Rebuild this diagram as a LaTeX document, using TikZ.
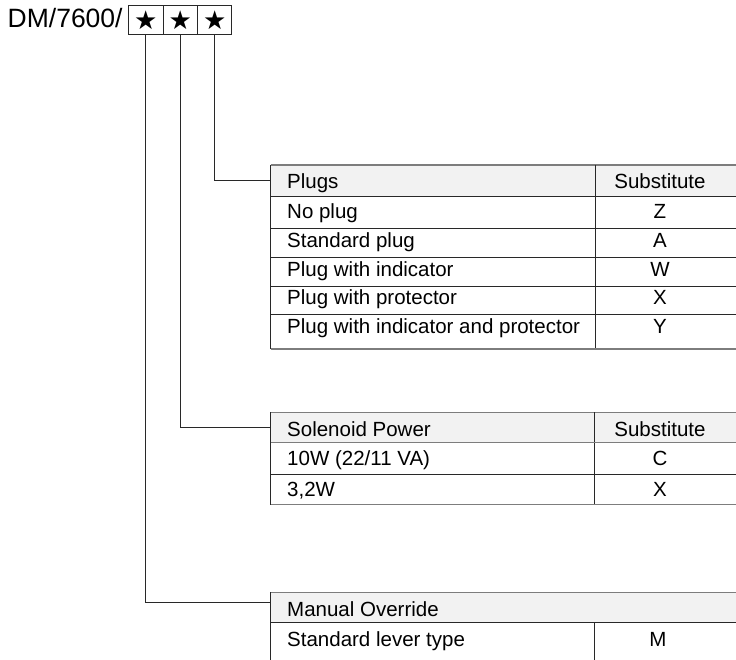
\documentclass[tikz,border=0pt]{standalone}
\usepackage{fontspec}
\setmainfont{Liberation Sans}
\newfontfamily\symfont{DejaVu Sans}
\definecolor{hdrfill}{RGB}{242,242,242}
\definecolor{framegray}{RGB}{125,125,125}
\definecolor{linedark}{RGB}{40,40,40}
\begin{document}
\begin{tikzpicture}[x=1pt,y=-1pt,
  font=\fontsize{20.5}{24}\selectfont,
  starbox/.style={draw=linedark, line width=0.9pt, minimum width=34.4pt, minimum height=29.3pt, inner sep=0pt, font=\symfont\fontsize{26}{26}\selectfont},
  hdrrow/.style={anchor=north west, fill=hdrfill, inner sep=0pt, minimum width=465.3pt, minimum height=30.5pt},
  lefttxt/.style={anchor=base west, inner sep=0pt},
  righttxt/.style={anchor=base, inner sep=0pt},
  outerline/.style={draw=framegray, line width=1.5pt},
  cellline/.style={draw=linedark, line width=0.9pt},
  conn/.style={draw=linedark, line width=0.9pt}]
\useasboundingbox (0,0) rectangle (736,660);

% title and code boxes
\node[anchor=base west, inner sep=0pt, font=\fontsize{26.5}{30}\selectfont] (title) at (7.5,27.3) {DM/7600/};
\node[starbox] (b1) at (145.8,19.7) {★};
\node[starbox] (b2) at (180.3,19.7) {★};
\node[starbox] (b3) at (214.7,19.7) {★};

% ---------- Table 1: Plugs ----------
\node[hdrrow] (h1) at (270.7,165) {};
\draw[outerline] (270.7,165) -- (736,165);
\draw[cellline] (270.7,165) -- (270.7,349);
\draw[cellline] (595,165) -- (595,349);
\foreach \yy in {196,228,257,286,314} \draw[cellline] (270.7,\yy) -- (736,\yy);
\draw[outerline] (270.7,349) -- (736,349);
\node[lefttxt] (t1a) at (287,188.3) {Plugs};
\node[righttxt] (t1b) at (660,188.3) {Substitute};
\node[lefttxt] (t1c) at (287,218.3) {No plug};
\node[righttxt] (t1d) at (660,218.3) {Z};
\node[lefttxt] (t1e) at (287,247.7) {Standard plug};
\node[righttxt] (t1f) at (660,247.7) {A};
\node[lefttxt] (t1g) at (287,276.7) {Plug with indicator};
\node[righttxt] (t1h) at (660,276.7) {W};
\node[lefttxt] (t1i) at (287,305) {Plug with protector};
\node[righttxt] (t1j) at (660,305) {X};
\node[lefttxt] (t1k) at (287,334) {Plug with indicator and protector};
\node[righttxt] (t1l) at (660,334) {Y};

% ---------- Table 2: Solenoid Power ----------
\node[hdrrow] (h2) at (270.7,412.3) {};
\draw[outerline] (270.7,412.3) -- (736,412.3);
\draw[cellline] (270.7,412.3) -- (270.7,504.5);
\draw[cellline] (594,412.3) -- (594,504.5);
\draw[outerline] (270.7,442.7) -- (736,442.7);
\draw[cellline] (270.7,474) -- (736,474);
\draw[outerline] (270.7,504.5) -- (736,504.5);
\node[lefttxt] (t2a) at (287,436) {Solenoid Power};
\node[righttxt] (t2b) at (660,436) {Substitute};
\node[lefttxt] (t2c) at (287,465.3) {10W (22/11 VA)};
\node[righttxt] (t2d) at (660,465.3) {C};
\node[lefttxt] (t2e) at (287,496) {3,2W};
\node[righttxt] (t2f) at (660,496) {X};

% ---------- Table 3: Manual Override ----------
\node[hdrrow] (h3) at (270.7,592.3) {};
\draw[outerline] (270.7,592.3) -- (736,592.3);
\draw[cellline] (270.7,592.3) -- (270.7,660);
\draw[cellline] (270.7,622.7) -- (736,622.7);
\draw[cellline] (594,622.7) -- (594,660);
\node[lefttxt] (t3a) at (287,616) {Manual Override};
\node[lefttxt] (t3b) at (287,646.7) {Standard lever type};
\node[righttxt] (t3c) at (658,646.7) {M};

% ---------- connectors ----------
\draw[conn] (b3.south) |- (h1.west);
\draw[conn] (b2.south) |- (h2.west);
\draw[conn] (b1.south) |- ([yshift=5pt]h3.west);
\end{tikzpicture}
\end{document}
